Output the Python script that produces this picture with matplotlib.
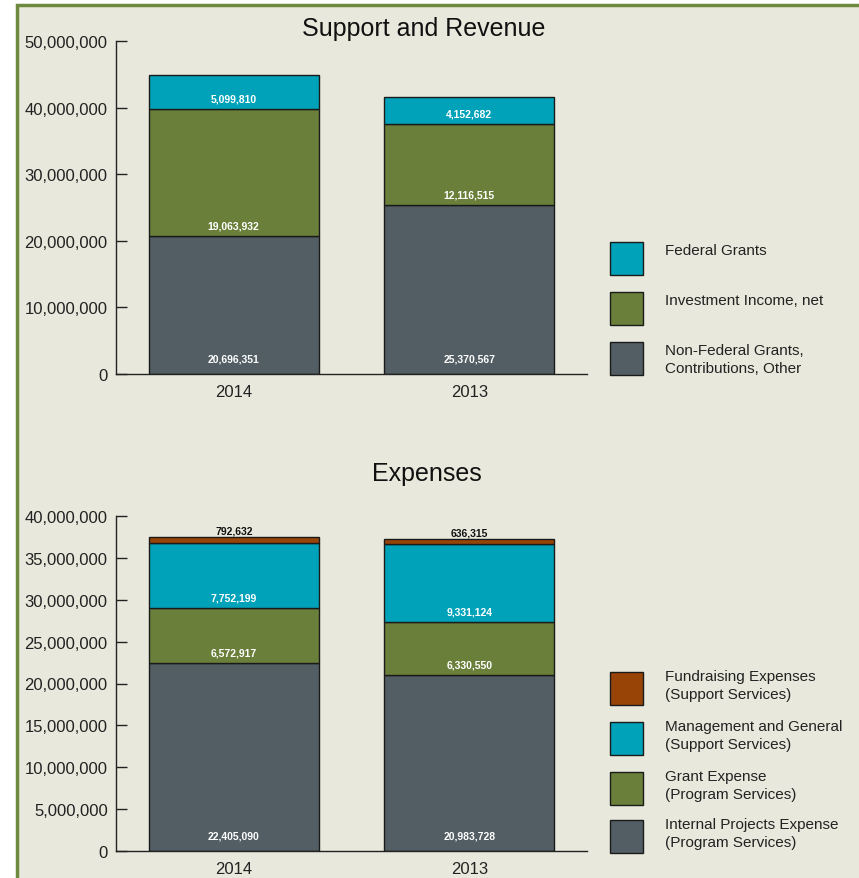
import matplotlib.pyplot as plt
from matplotlib.patches import Rectangle
from matplotlib.ticker import FuncFormatter

plt.rcParams['font.family'] = ['Liberation Sans', 'DejaVu Sans']

years = ['2014', '2013']

# support and revenue, bottom to top
rev_labels = ['Non-Federal Grants,\nContributions, Other', 'Investment Income, net', 'Federal Grants']
rev_nonfed = [20696351, 25370567]
rev_invest = [19063932, 12116515]
rev_federal = [5099810, 4152682]

# expenses, bottom to top
exp_labels = ['Internal Projects Expense\n(Program Services)', 'Grant Expense\n(Program Services)',
              'Management and General\n(Support Services)', 'Fundraising Expenses\n(Support Services)']
exp_internal = [22405090, 20983728]
exp_grant = [6572917, 6330550]
exp_mgmt = [7752199, 9331124]
exp_fund = [792632, 636315]

BG = '#e8e9dc'
GRAY = '#525e64'
GREEN = '#6a7f3a'
TEAL = '#00a2b9'
BROWN = '#984407'

W, H = 859, 879
fig = plt.figure(figsize=(W / 100, H / 100), dpi=100)
fig.patch.set_facecolor('white')
fig.patches.append(Rectangle((17 / W, -0.05), 1.1, 1 - 6 / H + 0.05, transform=fig.transFigure,
                             facecolor=BG, edgecolor='#6e8a3e', linewidth=2.5, zorder=-1))


def px_axes(left, top, right, bottom):
    return fig.add_axes([left / W, 1 - bottom / H, (right - left) / W, (bottom - top) / H])


def stacked(ax, series, colors, ymax, step, top_black=False):
    x = range(len(years))
    base = [0] * len(years)
    for i, (vals, col) in enumerate(zip(series, colors)):
        ax.bar(x, vals, 0.72, bottom=base, color=col, edgecolor='#1a1a1a', linewidth=1)
        last = top_black and i == len(series) - 1
        for xi, v, b in zip(x, vals, base):
            if last:
                ax.annotate(f'{v:,}', (xi, b + v), xytext=(0, 1), textcoords='offset points',
                            ha='center', va='bottom', fontsize=7.5, color='#111111', fontweight='bold')
            else:
                off = 11 if i == 0 else 7.5
                ax.annotate(f'{v:,}', (xi, b), xytext=(0, off), textcoords='offset points',
                            ha='center', va='center', fontsize=7.5, color='white', fontweight='bold')
        base = [b + v for b, v in zip(base, vals)]
    ax.set_xlim(-0.5, 1.5)
    ax.set_ylim(0, ymax)
    ax.set_yticks(range(0, ymax + 1, step))
    ax.yaxis.set_major_formatter(FuncFormatter(lambda v, p: f'{int(v):,}'))
    ax.set_xticks(list(x))
    ax.set_xticklabels(years)
    ax.set_facecolor('none')
    for s in ['top', 'right']:
        ax.spines[s].set_visible(False)
    for s in ['left', 'bottom']:
        ax.spines[s].set_linewidth(1)
        ax.spines[s].set_color('#222222')
    ax.tick_params(axis='y', direction='in', length=8, width=1, labelsize=12, pad=6, colors='#222222')
    ax.tick_params(axis='x', length=0, labelsize=12, pad=7, colors='#222222')


def legend(items, tops, text_off):
    for (lab, col), t in zip(items, tops):
        fig.patches.append(Rectangle((610 / W, 1 - (t + 33) / H), 33 / W, 33 / H, transform=fig.transFigure,
                                     facecolor=col, edgecolor='#1a1a1a', linewidth=1, zorder=3))
        fig.text(665 / W, 1 - (t + text_off) / H, lab, ha='left', va='top', fontsize=11,
                 color='#222222', linespacing=1.35)


ax1 = px_axes(116, 42, 587, 375)
stacked(ax1, [rev_nonfed, rev_invest, rev_federal], [GRAY, GREEN, TEAL], 50000000, 10000000)
fig.text(424 / W, 1 - 29 / H, 'Support and Revenue', ha='center', va='center', fontsize=18, color='#111111')
legend(list(zip(rev_labels[::-1], [TEAL, GREEN, GRAY])), [243, 293, 343], 1)

ax2 = px_axes(116, 517, 587, 852)
stacked(ax2, [exp_internal, exp_grant, exp_mgmt, exp_fund], [GRAY, GREEN, TEAL, BROWN], 40000000, 5000000,
        top_black=True)
fig.text(427 / W, 1 - 474 / H, 'Expenses', ha='center', va='center', fontsize=18, color='#111111')
legend(list(zip(exp_labels[::-1], [BROWN, TEAL, GREEN, GRAY])), [673, 723, 773, 821], -3)

fig.savefig('out.png', dpi=100)
